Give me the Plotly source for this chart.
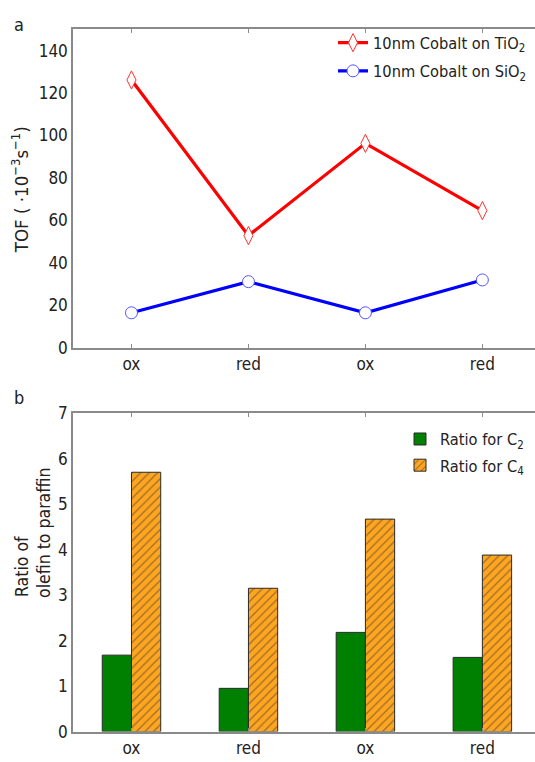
import plotly.graph_objects as go

W, H = 535, 762

# Treatment steps (shared by both panels)
categories = ["ox", "red", "ox", "red"]
positions = list(range(len(categories)))

# Panel a: turnover frequency (10^-3 s^-1)
tof_tio2 = [126.2, 52.8, 96.3, 64.6]
tof_sio2 = [16.4, 31.1, 16.4, 31.9]

# Panel b: olefin / paraffin ratios
ratio_c2 = [1.68, 0.95, 2.18, 1.63]
ratio_c4 = [5.70, 3.15, 4.67, 3.88]

FONT = "DejaVu Sans Condensed, DejaVu Sans"
TXT = "#222222"
AX = "#8a8a8a"


def px_x(p):
    return p / W


def px_y(p):
    return 1 - p / H


fig = go.Figure()

fig.add_trace(go.Scatter(
    x=positions, y=tof_tio2, mode="lines+markers",
    name="10nm Cobalt on TiO<sub>2</sub>", legendgroup="tio2",
    line=dict(color="#ff0000", width=3.2),
    marker=dict(symbol="diamond-tall", size=13, color="white",
                line=dict(color="#ff3030", width=1)),
    xaxis="x", yaxis="y", legend="legend",
))
fig.add_trace(go.Scatter(
    x=positions, y=tof_sio2, mode="lines+markers",
    name="10nm Cobalt on SiO<sub>2</sub>", legendgroup="sio2",
    line=dict(color="#0000ff", width=3.2),
    marker=dict(symbol="circle", size=12, color="white",
                line=dict(color="#5555ff", width=1)),
    xaxis="x", yaxis="y", legend="legend",
))

fig.add_trace(go.Bar(
    x=positions, y=ratio_c2, name="Ratio for C<sub>2</sub>", legendgroup="c2",
    marker=dict(color="#008000", line=dict(color="#2a2a2a", width=1)),
    xaxis="x2", yaxis="y2", legend="legend2",
))
fig.add_trace(go.Bar(
    x=positions, y=ratio_c4, name="Ratio for C<sub>4</sub>", legendgroup="c4",
    marker=dict(color="#ffa51f", line=dict(color="#2a2a2a", width=1),
                pattern=dict(shape="/", fgcolor="#3a3a3a", bgcolor="#ffa51f",
                             size=6, solidity=0.22)),
    xaxis="x2", yaxis="y2", legend="legend2",
))

x_common = dict(
    range=[-0.5, 3.45], tickmode="array", tickvals=positions, ticktext=categories,
    showline=True, linecolor=AX, linewidth=1.5, mirror="ticks",
    ticks="inside", ticklen=4, tickcolor=AX, showgrid=False, zeroline=False,
    tickfont=dict(family=FONT, size=17, color=TXT),
    domain=[px_x(73), 1],
)
y_common = dict(
    showline=True, linecolor=AX, linewidth=1.5, ticks="", showgrid=False,
    zeroline=False, tickfont=dict(family=FONT, size=17, color=TXT),
)


def label(text, x, y, size, angle=0):
    return dict(text=text, x=px_x(x), y=px_y(y), xref="paper", yref="paper",
                xanchor="center", yanchor="middle", textangle=angle,
                showarrow=False, font=dict(family=FONT, size=size, color=TXT))


fig.update_layout(
    width=W, height=H, autosize=False,
    margin=dict(l=0, r=0, t=0, b=0),
    paper_bgcolor="white", plot_bgcolor="white",
    barmode="group", bargap=0.5, bargroupgap=0,
    xaxis=dict(anchor="y", **x_common),
    yaxis=dict(anchor="x", range=[0, 150], tickvals=[0, 20, 40, 60, 80, 100, 120, 140],
               domain=[px_y(346.7), px_y(20)], **y_common),
    xaxis2=dict(anchor="y2", **x_common),
    yaxis2=dict(anchor="x2", range=[0, 7], tickvals=[0, 1, 2, 3, 4, 5, 6, 7],
                domain=[px_y(741), px_y(414)], **y_common),
    legend=dict(x=px_x(333), y=px_y(16), xanchor="left", yanchor="top",
                bgcolor="rgba(0,0,0,0)", font=dict(family=FONT, size=16.3, color=TXT),
                itemwidth=30, tracegroupgap=4),
    legend2=dict(x=px_x(400), y=px_y(423), xanchor="left", yanchor="top",
                 bgcolor="rgba(0,0,0,0)", font=dict(family=FONT, size=16.3, color=TXT),
                 itemwidth=30, tracegroupgap=2),
    annotations=[
        label("a", 19, 15, 18),
        label("b", 19, 398, 18),
        label("TOF ( ·10<sup>−3</sup>s<sup>−1</sup>)", 20, 185, 18.5, -90),
        label("Ratio of", 22, 572, 17.5, -90),
        label("olefin to paraffin", 44, 537, 17.5, -90),
    ],
)

fig.write_html("out.html")
